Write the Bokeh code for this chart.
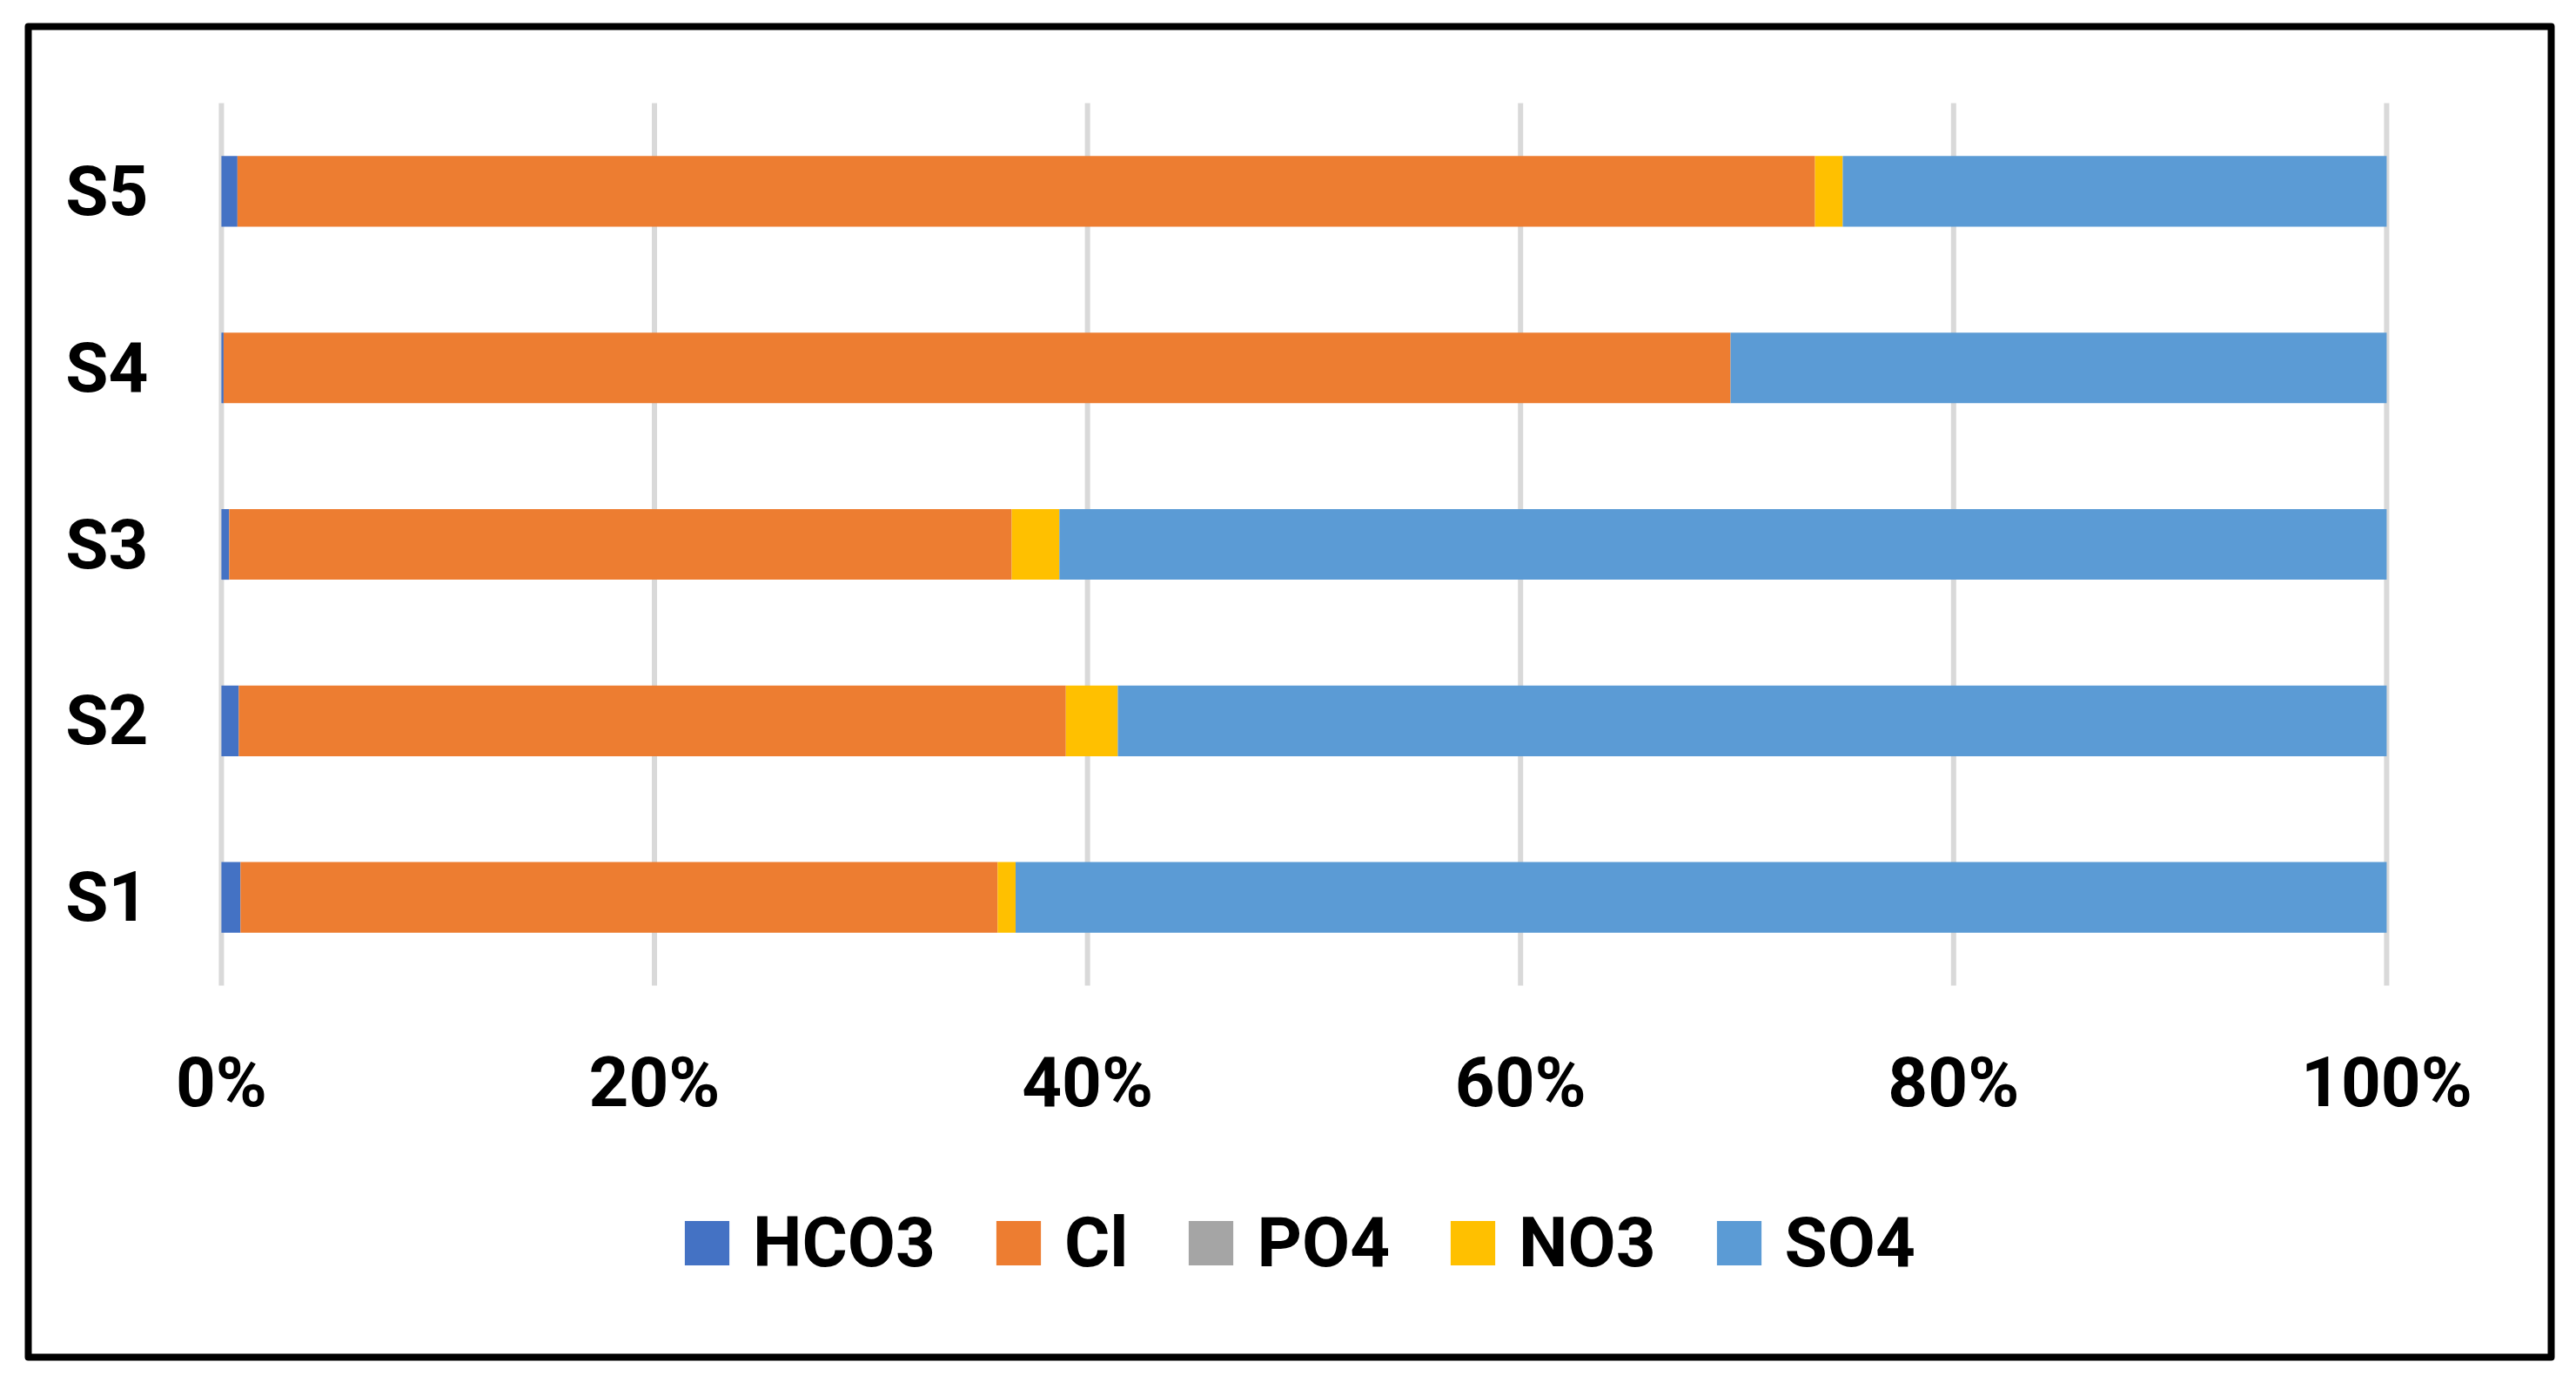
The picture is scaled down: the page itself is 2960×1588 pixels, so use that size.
from bokeh.plotting import figure
from bokeh.models import ColumnDataSource, Range1d, Legend, LegendItem, FixedTicker
from bokeh.transform import stack
from bokeh.embed import file_html
from bokeh.resources import INLINE

# ---- data (percent of total anions) ----
categories = ["S1", "S2", "S3", "S4", "S5"]
HCO3 = [0.88, 0.80, 0.36, 0.10, 0.74]
Cl = [34.97, 38.20, 36.14, 69.60, 72.86]
PO4 = [0.0, 0.0, 0.0, 0.0, 0.0]
NO3 = [0.83, 2.40, 2.20, 0.0, 1.28]
SO4 = [63.32, 58.60, 61.30, 30.30, 25.12]

series = ["HCO3", "Cl", "PO4", "NO3", "SO4"]
colors = ["#4472C4", "#ED7D31", "#A5A5A5", "#FFC000", "#5B9BD5"]
tick_values = [0, 20, 40, 60, 80, 100]
tick_labels = ["0%", "20%", "40%", "60%", "80%", "100%"]

ypos = [i + 1 for i in range(len(categories))]
src = ColumnDataSource(dict(y=ypos, cat=categories, HCO3=HCO3, Cl=Cl, PO4=PO4, NO3=NO3, SO4=SO4))

FONT = "Roboto"
FS = "80px"

# frame = area inside the black chart border; ranges extended so bars sit where they should
p = figure(x_range=Range1d(-8.92, 107.6), y_range=Range1d(-1.605, 5.934),
           frame_width=2899, frame_height=1529,
           min_border_left=32, min_border_right=13, min_border_top=30, min_border_bottom=13,
           output_backend="svg", toolbar_location=None)
p.outline_line_color = "black"
p.outline_line_width = 8
p.outline_line_join = "round"
p.background_fill_color = "white"
p.border_fill_color = "white"

# vertical gridlines spanning the category band only
n = len(categories)
p.segment(x0=tick_values, y0=[0.5] * len(tick_values), x1=tick_values,
          y1=[n + 0.5] * len(tick_values), line_color="#D9D9D9", line_width=6)

items = []
for i, s in enumerate(series):
    r = p.hbar(y="y", left=stack(*series[:i]), right=stack(*series[:i + 1]), height=0.4,
               fill_color=colors[i], line_color=None, source=src)
    items.append(LegendItem(label=s, renderers=[r]))

p.xgrid.visible = False
p.ygrid.visible = False

p.xaxis.ticker = FixedTicker(ticks=tick_values)
p.xaxis.major_label_overrides = {v: l for v, l in zip(tick_values, tick_labels)}
p.yaxis.ticker = FixedTicker(ticks=ypos)
p.yaxis.major_label_overrides = {v: c for v, c in zip(ypos, categories)}
p.xaxis.fixed_location = 0.5
p.yaxis.fixed_location = 0
for ax in (p.xaxis[0], p.yaxis[0]):
    ax.axis_line_color = None
    ax.major_tick_line_color = None
    ax.minor_tick_line_color = None
    ax.major_tick_out = 0
    ax.major_tick_in = 0
    ax.major_label_text_font = FONT
    ax.major_label_text_font_style = "bold"
    ax.major_label_text_font_size = FS
    ax.major_label_text_color = "black"
p.xaxis.major_label_standoff = 64
p.yaxis.major_label_standoff = 84

legend = Legend(items=items, orientation="horizontal", location=(748, 84),
                glyph_width=64, glyph_height=64, label_standoff=21, spacing=63,
                padding=0, margin=0, border_line_color=None, background_fill_alpha=0,
                label_text_font=FONT, label_text_font_style="bold",
                label_text_font_size=FS, label_text_color="black")
p.add_layout(legend, "center")

open("out.html", "w").write(file_html(p, INLINE))
